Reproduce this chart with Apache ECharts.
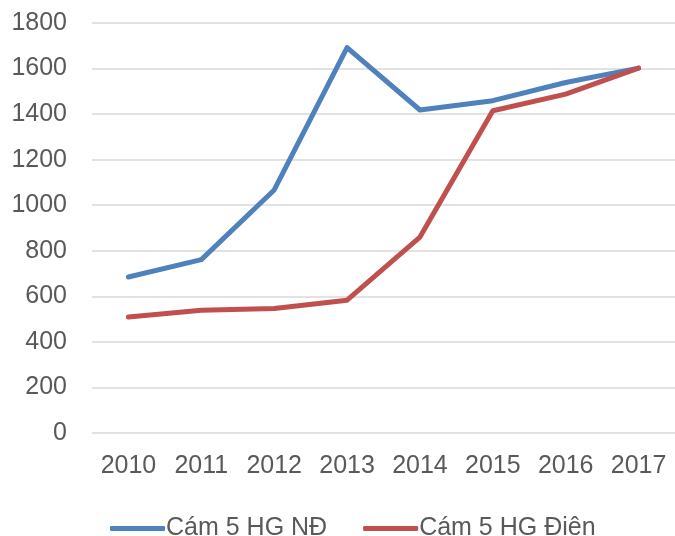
<!DOCTYPE html>
<html>
<head>
<meta charset="utf-8">
<script src="https://cdn.jsdelivr.net/npm/echarts@6/dist/echarts.min.js"></script>
<style>
  html, body { margin: 0; padding: 0; background: #fff; }
  #main { width: 675px; height: 536px; }
</style>
</head>
<body>
<div id="main"></div>
<script>
var years = ['2010', '2011', '2012', '2013', '2014', '2015', '2016', '2017'];
var camND = [685, 761, 1067, 1692, 1418, 1459, 1539, 1602];
var camDien = [509, 539, 547, 583, 860, 1415, 1488, 1602];
var seriesNames = ['Cám 5 HG NĐ', 'Cám 5 HG Điên'];

var chart = echarts.init(document.getElementById('main'));
var font = 'Tahoma, "Liberation Sans", sans-serif';

var option = {
  backgroundColor: '#fff',
  color: ['#4F81BD', '#C0504D'],
  animation: false,
  grid: {
    left: 92,
    top: 23,
    width: 590,
    height: 410
  },
  legend: {
    data: seriesNames,
    left: 105,
    top: 511,
    icon: 'roundRect',
    itemWidth: 55,
    itemHeight: 5,
    itemGap: 36,
    textStyle: { fontFamily: font, fontSize: 25, color: '#595959', padding: [0, 0, 0, -4] }
  },
  xAxis: {
    type: 'category',
    data: years,
    boundaryGap: true,
    axisLine: { show: false },
    axisTick: { show: false },
    axisLabel: { fontFamily: font, fontSize: 25, color: '#595959', margin: 21, interval: 0 }
  },
  yAxis: {
    type: 'value',
    min: 0,
    max: 1800,
    interval: 200,
    axisLine: { show: false },
    axisTick: { show: false },
    axisLabel: {
      fontFamily: font, fontSize: 25, color: '#595959', margin: 25,
      formatter: function (v) { return String(v); }
    },
    splitLine: { lineStyle: { color: '#D9D9D9', width: 1.5 } }
  },
  series: [
    {
      name: seriesNames[0],
      type: 'line',
      data: camND,
      symbol: 'none',
      lineStyle: { width: 5, cap: 'round', join: 'round' }
    },
    {
      name: seriesNames[1],
      type: 'line',
      data: camDien,
      symbol: 'none',
      lineStyle: { width: 5, cap: 'round', join: 'round' }
    }
  ]
};
chart.setOption(option);
</script>
</body>
</html>
